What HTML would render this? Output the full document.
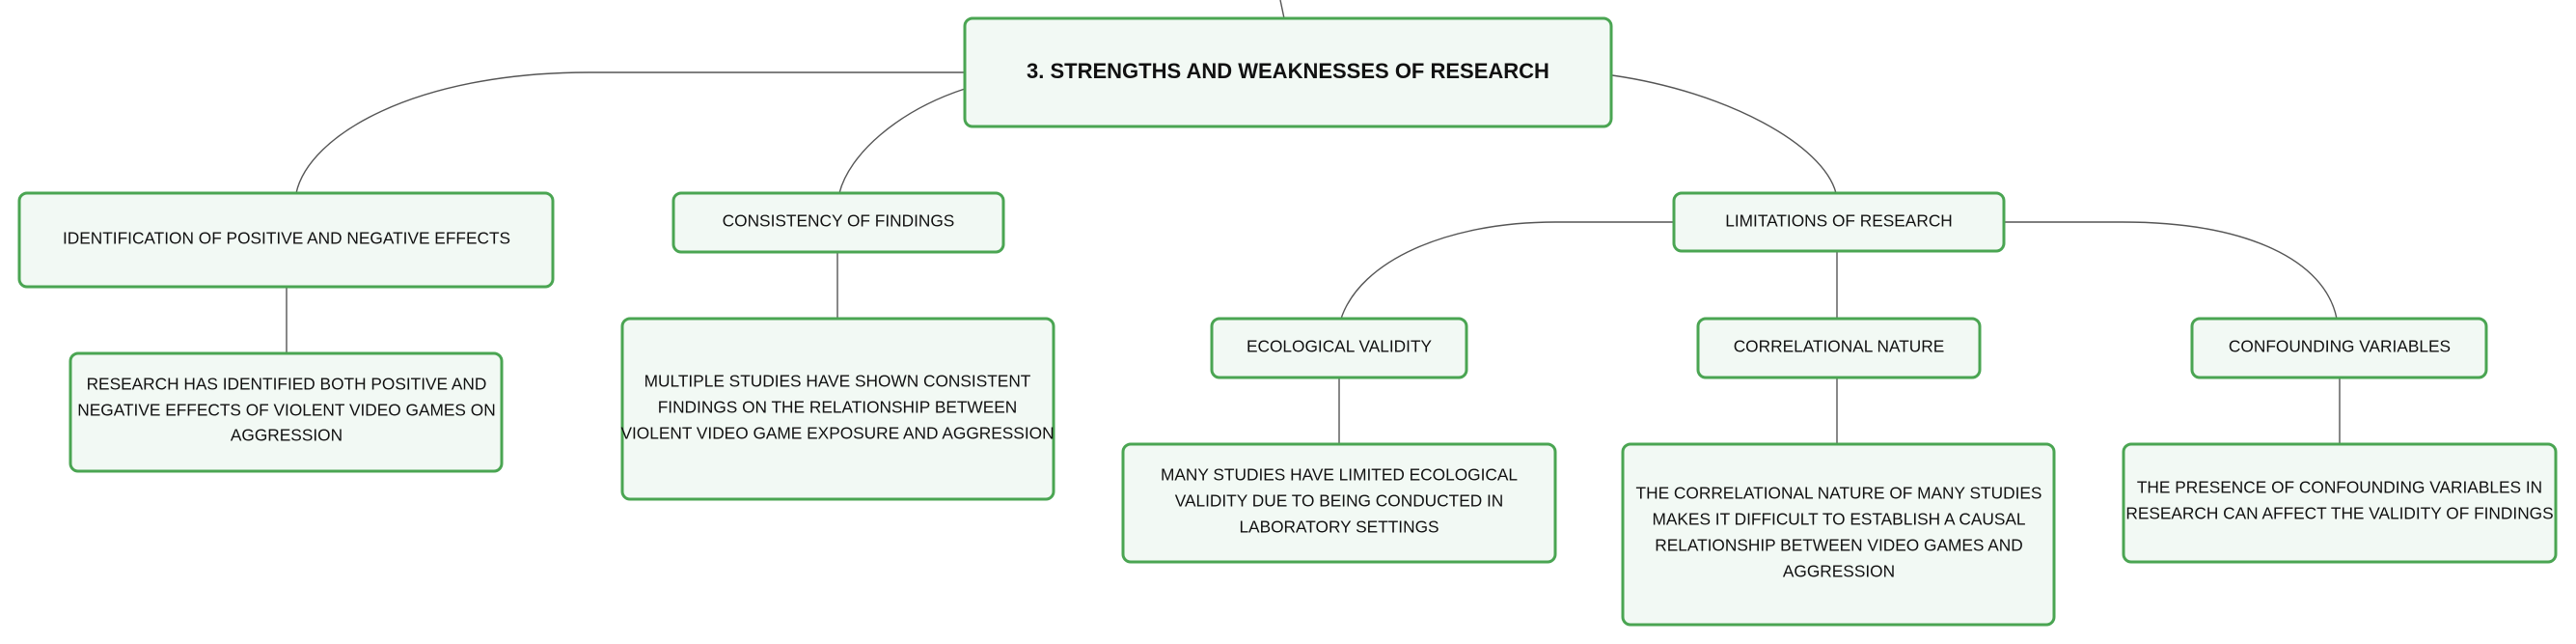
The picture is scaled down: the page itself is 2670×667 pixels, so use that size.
<!DOCTYPE html>
<html><head><meta charset="utf-8"><style>
html,body{margin:0;padding:0;background:#fff;}
svg{display:block;}
text{font-family:"Liberation Sans",sans-serif;fill:#111;text-anchor:middle;dominant-baseline:middle;}
.b{fill:#f2f9f4;stroke:#4aa552;stroke-width:3;}
.l{fill:none;stroke:#555;stroke-width:1.4;}
.t{font-size:17.3px;}
</style></head><body>
<svg width="2670" height="667" viewBox="0 0 2670 667" xmlns="http://www.w3.org/2000/svg">
<path class="l" d="M1327,0 L1331,19"/>
<path class="l" d="M1000,75 H610 C430,75 320,140 307,200"/>
<path class="l" d="M1000,92 C930,115 880,160 870,200"/>
<path class="l" d="M1671,78 C1790,95 1890,150 1903,200"/>
<path class="l" d="M1735,230 H1612 C1500,230 1410,270 1390,330"/>
<path class="l" d="M2077,230 H2200 C2330,230 2410,270 2422,330"/>
<path class="l" d="M1904,260 V330"/>
<path class="l" d="M297,297 V366"/>
<path class="l" d="M868,261 V330"/>
<path class="l" d="M1388,391 V460"/>
<path class="l" d="M1904,391 V460"/>
<path class="l" d="M2425,391 V460"/>

<rect class="b" x="1000" y="19" width="670" height="112" rx="8"/>
<text x="1335" y="75" style="font-size:22px;font-weight:bold">3. STRENGTHS AND WEAKNESSES OF RESEARCH</text>

<rect class="b" x="20" y="200" width="553" height="97" rx="8"/>
<text class="t" x="297" y="248">IDENTIFICATION OF POSITIVE AND NEGATIVE EFFECTS</text>

<rect class="b" x="698" y="200" width="342" height="61" rx="8"/>
<text class="t" x="869" y="230">CONSISTENCY OF FINDINGS</text>

<rect class="b" x="1735" y="200" width="342" height="60" rx="8"/>
<text class="t" x="1906" y="230">LIMITATIONS OF RESEARCH</text>

<rect class="b" x="73" y="366" width="447" height="122" rx="8"/>
<text class="t" x="297" y="399">RESEARCH HAS IDENTIFIED BOTH POSITIVE AND</text>
<text class="t" x="297" y="426">NEGATIVE EFFECTS OF VIOLENT VIDEO GAMES ON</text>
<text class="t" x="297" y="452">AGGRESSION</text>

<rect class="b" x="645" y="330" width="447" height="187" rx="8"/>
<text class="t" x="868" y="396">MULTIPLE STUDIES HAVE SHOWN CONSISTENT</text>
<text class="t" x="868" y="423">FINDINGS ON THE RELATIONSHIP BETWEEN</text>
<text class="t" x="868" y="450">VIOLENT VIDEO GAME EXPOSURE AND AGGRESSION</text>

<rect class="b" x="1256" y="330" width="264" height="61" rx="8"/>
<text class="t" x="1388" y="360">ECOLOGICAL VALIDITY</text>

<rect class="b" x="1760" y="330" width="292" height="61" rx="8"/>
<text class="t" x="1906" y="360">CORRELATIONAL NATURE</text>

<rect class="b" x="2272" y="330" width="305" height="61" rx="8"/>
<text class="t" x="2425" y="360">CONFOUNDING VARIABLES</text>

<rect class="b" x="1164" y="460" width="448" height="122" rx="8"/>
<text class="t" x="1388" y="493">MANY STUDIES HAVE LIMITED ECOLOGICAL</text>
<text class="t" x="1388" y="520">VALIDITY DUE TO BEING CONDUCTED IN</text>
<text class="t" x="1388" y="547">LABORATORY SETTINGS</text>

<rect class="b" x="1682" y="460" width="447" height="187" rx="8"/>
<text class="t" x="1906" y="512">THE CORRELATIONAL NATURE OF MANY STUDIES</text>
<text class="t" x="1906" y="539">MAKES IT DIFFICULT TO ESTABLISH A CAUSAL</text>
<text class="t" x="1906" y="566">RELATIONSHIP BETWEEN VIDEO GAMES AND</text>
<text class="t" x="1906" y="593">AGGRESSION</text>

<rect class="b" x="2201" y="460" width="448" height="122" rx="8"/>
<text class="t" x="2425" y="506">THE PRESENCE OF CONFOUNDING VARIABLES IN</text>
<text class="t" x="2425" y="533">RESEARCH CAN AFFECT THE VALIDITY OF FINDINGS</text>
</svg>
</body></html>
